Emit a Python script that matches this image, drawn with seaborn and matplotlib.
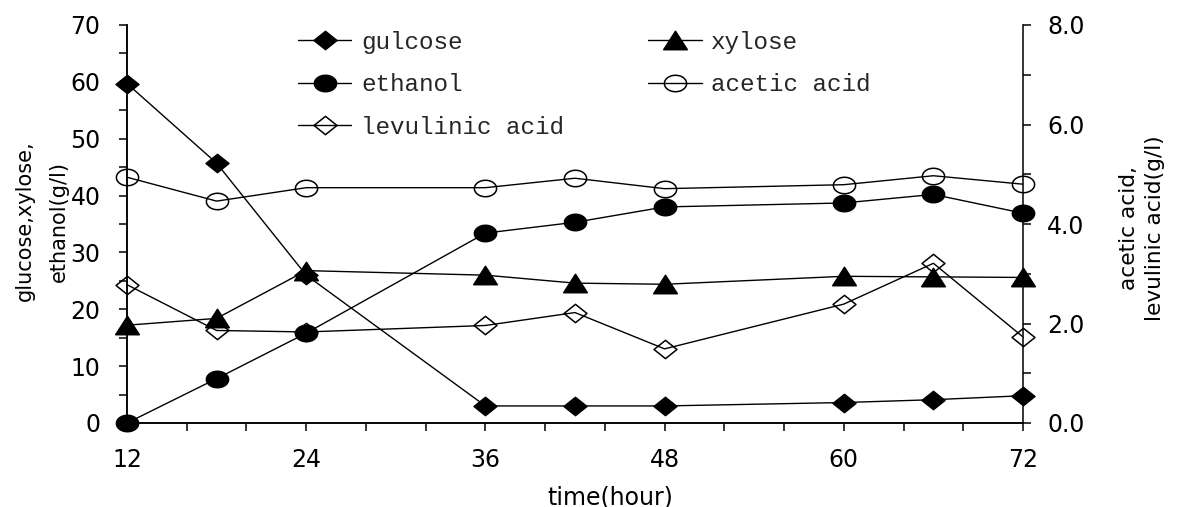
import numpy as np
import pandas as pd
import matplotlib
matplotlib.use("Agg")
import matplotlib.pyplot as plt
from matplotlib.path import Path
from matplotlib.ticker import MultipleLocator, FormatStrFormatter
import seaborn as sns

# ---- data ----
hours = [12, 18, 24, 36, 42, 48, 60, 66, 72]
glucose = [59.7, 45.7, 26.0, 3.0, 3.0, 3.0, 3.6, 4.1, 4.8]
xylose = [17.2, 18.4, 26.8, 26.0, 24.6, 24.4, 25.8, 25.7, 25.6]
ethanol = [0.0, 7.8, 15.8, 33.4, 35.3, 38.0, 38.7, 40.2, 36.9]
acetic_acid = [4.94, 4.46, 4.73, 4.73, 4.92, 4.71, 4.79, 4.97, 4.80]
levulinic_acid = [2.78, 1.86, 1.83, 1.96, 2.22, 1.49, 2.39, 3.21, 1.73]

left_label = "glucose,xylose,\nethanol(g/l)"
right_label = "acetic acid,\nlevulinic acid(g/l)"
x_label = "time(hour)"

sns.set_theme(style="ticks")
plt.rcParams["font.family"] = ["DejaVu Sans"]

# marker shapes (slightly flattened like in the reference)
diamond = Path([(-1, 0), (0, 0.8), (1, 0), (0, -0.8), (-1, 0)],
               [Path.MOVETO, Path.LINETO, Path.LINETO, Path.LINETO, Path.CLOSEPOLY])
triangle = Path([(-1, -0.78), (1, -0.78), (0, 0.78), (-1, -0.78)],
                [Path.MOVETO, Path.LINETO, Path.LINETO, Path.CLOSEPOLY])
t = np.linspace(0, 2 * np.pi, 61)
ellipse = Path(np.column_stack([np.cos(t), 0.74 * np.sin(t)]), closed=True)

fig = plt.figure(figsize=(11.77, 5.07), dpi=100)
ax = fig.add_axes([127 / 1177, 84 / 507, 896 / 1177, 398 / 507])
ax2 = ax.twinx()

df = pd.DataFrame({"hour": hours, "gulcose": glucose, "xylose": xylose,
                   "ethanol": ethanol, "acetic acid": acetic_acid,
                   "levulinic acid": levulinic_acid})

common = dict(color="black", linewidth=1.0, markeredgecolor="black",
              markeredgewidth=1.1, clip_on=False, errorbar=None, sort=False)

sns.lineplot(data=df, x="hour", y="gulcose", ax=ax, marker=diamond, ms=16.5,
             markerfacecolor="black", label="gulcose", **common)
sns.lineplot(data=df, x="hour", y="xylose", ax=ax, marker=triangle, ms=17,
             markerfacecolor="black", label="xylose", **common)
sns.lineplot(data=df, x="hour", y="ethanol", ax=ax, marker=ellipse, ms=16,
             markerfacecolor="black", label="ethanol", **common)
sns.lineplot(data=df, x="hour", y="acetic acid", ax=ax2, marker=ellipse, ms=16,
             markerfacecolor="none", label="acetic acid", **common)
sns.lineplot(data=df, x="hour", y="levulinic acid", ax=ax2, marker=diamond, ms=16.5,
             markerfacecolor="none", label="levulinic acid", **common)

for a in (ax, ax2):
    leg = a.get_legend()
    if leg is not None:
        leg.remove()

ax.set_xlim(12, 72)
ax.set_ylim(0, 70)
ax2.set_ylim(0, 8)

ax.xaxis.set_major_locator(MultipleLocator(12))
ax.xaxis.set_minor_locator(MultipleLocator(4))
ax.yaxis.set_major_locator(MultipleLocator(10))
ax.yaxis.set_minor_locator(MultipleLocator(5))
ax2.yaxis.set_major_locator(MultipleLocator(2))
ax2.yaxis.set_minor_locator(MultipleLocator(1))
ax2.yaxis.set_major_formatter(FormatStrFormatter("%.1f"))

for a in (ax, ax2):
    for s in a.spines.values():
        s.set_linewidth(1.1)
        s.set_color("black")
    a.spines["top"].set_visible(False)
    a.grid(False)
ax.spines["right"].set_visible(False)

ax.tick_params(axis="both", which="both", direction="out", length=6,
               width=1.1, color="black", labelsize=17, labelcolor="black")
ax.tick_params(axis="x", which="major", pad=12)
ax.tick_params(axis="y", which="major", pad=13)
ax2.tick_params(axis="y", which="both", direction="out", length=6,
                width=1.1, color="black", labelsize=17, labelcolor="black", pad=11.5)

ax.set_xlabel("")
ax.set_ylabel("")
ax2.set_ylabel("")

fig.text(610 / 1177, 1 - 497 / 507, x_label, ha="center", va="center",
         fontsize=17, color="black")
fig.text(42 / 1177, 1 - 221 / 507, left_label, rotation=90, ha="center",
         va="center", multialignment="center", fontsize=15,
         linespacing=1.9, color="black")
fig.text(1142 / 1177, 1 - 228 / 507, right_label, rotation=90, ha="center",
         va="center", multialignment="center", fontsize=15.6,
         linespacing=1.4, color="black")

# legend (row-wise order in two columns)
lines = {l.get_label(): l for l in ax.get_lines() + ax2.get_lines()}
order = ["gulcose", "ethanol", "levulinic acid", "xylose", "acetic acid"]
handles = [lines[k] for k in order]
fig.legend(handles, order, loc="upper left",
           bbox_to_anchor=(298 / 1177, 1 - 31 / 507),
           bbox_transform=fig.transFigure, ncol=2, frameon=False,
           borderpad=0, borderaxespad=0, handlelength=2.2,
           handletextpad=0.4, columnspacing=3.45, labelspacing=0.8,
           markerscale=1.0,
           prop={"family": "Liberation Mono", "size": 17.5})

fig.savefig("out.png", dpi=100, facecolor="white")
